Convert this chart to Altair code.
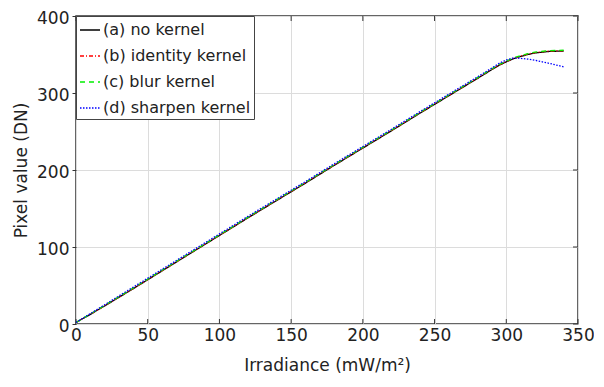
import altair as alt
import pandas as pd

series_names = ["(a) no kernel", "(b) identity kernel", "(c) blur kernel", "(d) sharpen kernel"]
x_vals = [0, 10, 20, 40, 60, 80, 100, 120, 140, 160, 180, 200, 220, 240, 260, 280, 290, 295, 300, 305, 310, 315, 320, 330, 340]
y_a = [2, 12.5, 23.5, 46, 69, 92, 115, 138, 160.5, 183, 206, 228.5, 251, 274, 296.5, 319, 330.5, 336, 340.5, 344.5, 347.5, 350, 352, 354, 354.5]
y_b = [2, 12.7, 23.8, 46.3, 69.3, 92.3, 115.3, 138.3, 161, 183.5, 206.5, 229, 251.5, 274.5, 297, 319.5, 331, 336.5, 341, 345, 348, 350.5, 352.5, 354.5, 355]
y_c = [2, 13, 24.2, 46.8, 69.8, 92.8, 115.8, 138.8, 161.5, 184, 207, 229.5, 252, 275, 297.5, 320, 331.5, 337, 341.5, 345.5, 348.5, 351, 353, 355, 355.5]
y_d = [2, 13.5, 25, 48, 71, 94, 117, 140, 162.5, 185, 208, 230.5, 253, 276, 298.5, 321, 332.5, 338.5, 343, 345.5, 345, 344, 342.5, 338.5, 334]

x_ticks = [0, 50, 100, 150, 200, 250, 300, 350]
y_ticks = [0, 100, 200, 300, 400]

rows = []
for name, ys in zip(series_names, [y_a, y_b, y_c, y_d]):
    for xv, yv in zip(x_vals, ys):
        rows.append({"x": xv, "y": yv, "series": name})
df = pd.DataFrame(rows)

W, H = 502, 308
FONT = "DejaVu Sans"

xs = alt.Scale(domain=[0, 350], nice=False)
ys_ = alt.Scale(domain=[0, 400], nice=False)

leg = dict(title=None, orient="top-left", offset=0, symbolType="stroke",
           symbolSize=400, symbolStrokeWidth=1.5, labelFont=FONT, labelFontSize=16,
           labelColor="#222", strokeColor="#444", fillColor="white",
           padding=3, rowPadding=7, labelOffset=2, cornerRadius=0)

lines = alt.Chart(df).mark_line(strokeWidth=1.3).encode(
    x=alt.X("x:Q", scale=xs, axis=alt.Axis(values=x_ticks, title="Irradiance (mW/m²)", grid=True, ticks=False,
                                           labelFlush=False, labelOverlap=False)),
    y=alt.Y("y:Q", scale=ys_, axis=alt.Axis(values=y_ticks, title="Pixel value (DN)", grid=True,
                                            ticks=True, tickSize=4, tickColor="#333", labelOffset=2,
                                            labelFlush=False, labelOverlap=False)),
    color=alt.Color("series:N", sort=series_names,
                    scale=alt.Scale(domain=series_names, range=["#000000", "#ff0000", "#00ee00", "#0000ff"]),
                    legend=alt.Legend(**leg)),
    strokeDash=alt.StrokeDash("series:N", sort=series_names,
                              scale=alt.Scale(domain=series_names, range=[[1, 0], [4, 2, 1, 2], [5, 4], [1.5, 1.5]]),
                              legend=alt.Legend(**leg)),
    order=alt.Order("x:Q"),
)

xt = pd.DataFrame({"t": x_ticks})
yt = pd.DataFrame({"t": y_ticks})
tick_style = dict(color="#333", strokeWidth=1)
bt = alt.Chart(xt).mark_rule(**tick_style).encode(x=alt.X("t:Q", scale=xs), y=alt.value(H), y2=alt.value(H - 5))
tt = alt.Chart(xt).mark_rule(**tick_style).encode(x=alt.X("t:Q", scale=xs), y=alt.value(0), y2=alt.value(5))
rt = alt.Chart(yt).mark_rule(**tick_style).encode(y=alt.Y("t:Q", scale=ys_), x=alt.value(W), x2=alt.value(W - 5))

chart = alt.layer(bt, tt, rt, lines).properties(
    width=W, height=H, padding={"left": 68, "top": 8, "right": 16, "bottom": 55},
    autosize=alt.AutoSizeParams(type="none")
).configure_view(
    stroke="#333", strokeWidth=1.5
).configure_axis(
    labelFont=FONT, titleFont=FONT, labelFontSize=17, titleFontSize=17, titleFontWeight="normal",
    labelColor="#222", titleColor="#222", gridColor="#dcdcdc", gridWidth=1, domain=False,
    labelPadding=3
).configure_axisX(titlePadding=14).configure_axisY(titlePadding=6)

chart.save("out.html", embed_options={"renderer": "svg", "actions": False})
